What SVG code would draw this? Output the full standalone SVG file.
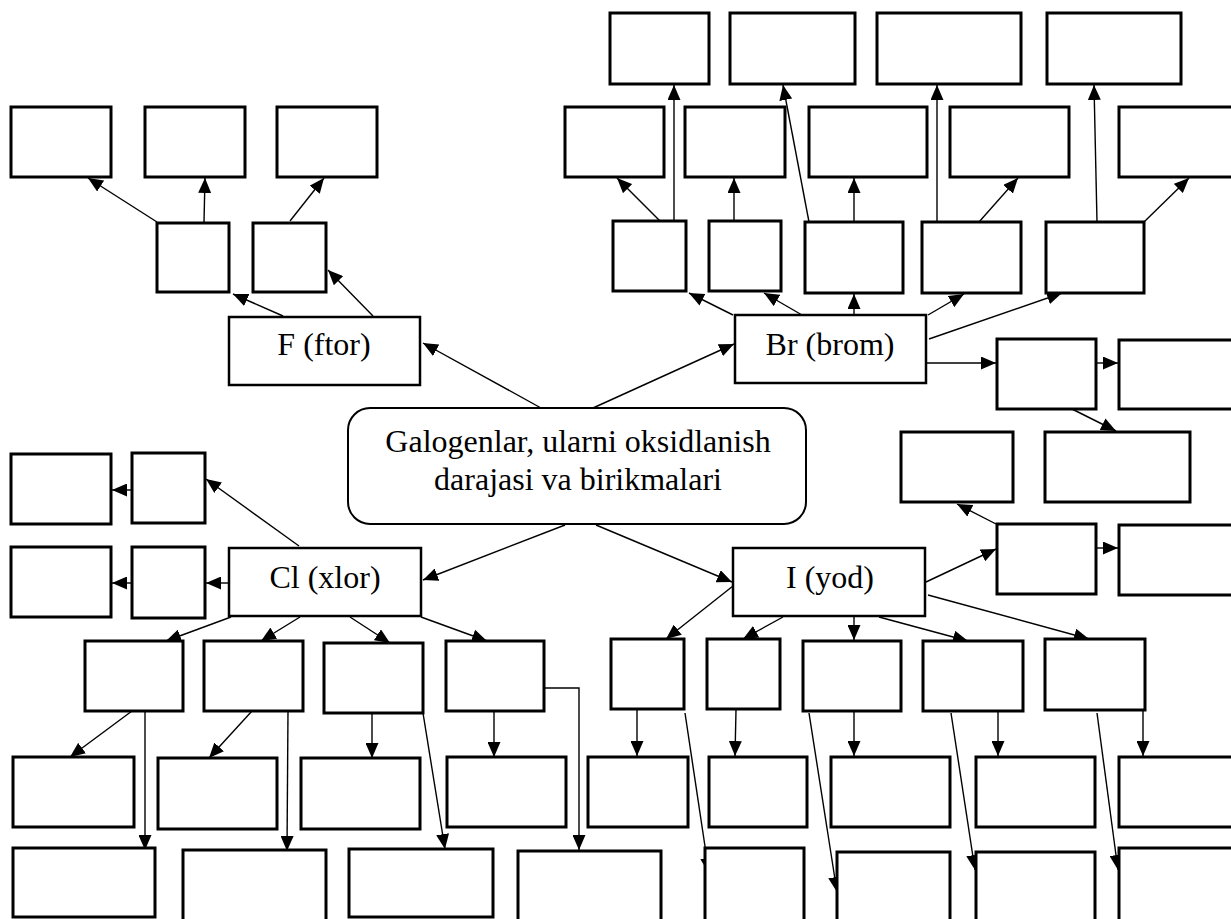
<svg xmlns="http://www.w3.org/2000/svg" width="1231" height="919" viewBox="0 0 1231 919">
<style>
.b{fill:#fff;stroke:#000;stroke-width:3}
.t{fill:#fff;stroke:#000;stroke-width:2.5}
.c{fill:#fff;stroke:#000;stroke-width:2}
.lbl{font-family:"Liberation Serif","Times New Roman",serif;font-size:32px;fill:#000;text-anchor:middle}
.k line,.k polyline{stroke:#000;stroke-width:1.4;fill:none;marker-end:url(#ah)}
</style>
<defs>
<marker id="ah" markerUnits="userSpaceOnUse" markerWidth="15" markerHeight="13" refX="15" refY="6.5" orient="auto">
<path d="M0,0 L15,6.5 L0,13 z" fill="#000"/>
</marker>
</defs>
<rect width="1231" height="919" fill="#fff"/>
<g id="connectors" class="k">
<line x1="157" y1="222" x2="88" y2="178"/>
<line x1="204" y1="222" x2="205" y2="178"/>
<line x1="290" y1="221" x2="324" y2="178"/>
<line x1="283" y1="316" x2="233" y2="294"/>
<line x1="373" y1="316" x2="328" y2="270"/>
<line x1="541" y1="408" x2="423" y2="343"/>
<line x1="593" y1="408" x2="734" y2="344"/>
<line x1="565" y1="525" x2="423" y2="580"/>
<line x1="596" y1="525" x2="732" y2="582"/>
<line x1="733" y1="315" x2="689" y2="293"/>
<line x1="802" y1="315" x2="764" y2="293"/>
<line x1="854" y1="315" x2="854" y2="294"/>
<line x1="928" y1="315" x2="964" y2="294"/>
<line x1="929" y1="339" x2="1062" y2="293"/>
<line x1="926" y1="363" x2="996" y2="363"/>
<line x1="1096" y1="363" x2="1118" y2="363"/>
<line x1="1072" y1="409" x2="1116" y2="431"/>
<line x1="661" y1="222" x2="617" y2="178"/>
<line x1="674" y1="221" x2="674" y2="85"/>
<line x1="734" y1="221" x2="734" y2="178"/>
<line x1="809" y1="222" x2="783" y2="85"/>
<line x1="854" y1="222" x2="854" y2="178"/>
<line x1="937" y1="222" x2="937" y2="85"/>
<line x1="979" y1="222" x2="1018" y2="178"/>
<line x1="1097" y1="222" x2="1094" y2="85"/>
<line x1="1144" y1="222" x2="1189" y2="178"/>
<line x1="926" y1="582" x2="996" y2="549"/>
<line x1="1096" y1="548" x2="1118" y2="548"/>
<line x1="996" y1="524" x2="957" y2="504"/>
<line x1="733" y1="586" x2="666" y2="639"/>
<line x1="783" y1="617" x2="743" y2="639"/>
<line x1="854" y1="616" x2="854" y2="640"/>
<line x1="879" y1="617" x2="968" y2="641"/>
<line x1="928" y1="595" x2="1089" y2="639"/>
<line x1="637" y1="710" x2="637" y2="756"/>
<line x1="736" y1="710" x2="735" y2="756"/>
<line x1="854" y1="712" x2="854" y2="756"/>
<line x1="998" y1="712" x2="998" y2="756"/>
<line x1="1143" y1="710" x2="1143" y2="756"/>
<line x1="685" y1="713" x2="709" y2="873"/>
<line x1="809" y1="713" x2="837" y2="892"/>
<line x1="951" y1="713" x2="975" y2="870"/>
<line x1="1097" y1="713" x2="1118" y2="870"/>
<line x1="299" y1="546" x2="206" y2="479"/>
<line x1="229" y1="583" x2="206" y2="583"/>
<line x1="134" y1="490" x2="112" y2="490"/>
<line x1="132" y1="583" x2="112" y2="583"/>
<line x1="231" y1="617" x2="166" y2="641"/>
<line x1="300" y1="617" x2="261" y2="641"/>
<line x1="350" y1="617" x2="390" y2="643"/>
<line x1="421" y1="617" x2="487" y2="641"/>
<line x1="132" y1="711" x2="70" y2="757"/>
<line x1="145" y1="711" x2="145" y2="850"/>
<line x1="252" y1="711" x2="209" y2="758"/>
<line x1="288" y1="711" x2="287" y2="851"/>
<line x1="372" y1="713" x2="372" y2="758"/>
<line x1="423" y1="713" x2="445" y2="849"/>
<line x1="494" y1="711" x2="494" y2="757"/>
<polyline points="544,688 579,688 579,850"/>
</g>
<g id="center"><rect class="c" x="348" y="408" width="458" height="116" rx="22"/>
<text class="lbl" x="578" y="452">Galogenlar, ularni oksidlanish</text>
<text class="lbl" x="578" y="490">darajasi va birikmalari</text></g>
<g id="F"><rect class="t" x="229" y="317" width="191" height="68"/><text class="lbl" x="324" y="355">F (ftor)</text></g>
<g id="f1"><rect class="b" x="11" y="107" width="100" height="70"/></g>
<g id="f2"><rect class="b" x="145" y="107" width="100" height="70"/></g>
<g id="f3"><rect class="b" x="277" y="107" width="100" height="70"/></g>
<g id="fa"><rect class="b" x="157" y="223" width="72" height="69"/></g>
<g id="fb"><rect class="b" x="253" y="223" width="73" height="69"/></g>
<g id="Br"><rect class="t" x="735" y="315" width="191" height="68"/><text class="lbl" x="830" y="355">Br (brom)</text></g>
<g id="t1"><rect class="b" x="610" y="13" width="99" height="71"/></g>
<g id="t2"><rect class="b" x="730" y="13" width="125" height="71"/></g>
<g id="t3"><rect class="b" x="877" y="13" width="144" height="71"/></g>
<g id="t4"><rect class="b" x="1047" y="13" width="134" height="71"/></g>
<g id="m1"><rect class="b" x="565" y="107" width="99" height="70"/></g>
<g id="m2"><rect class="b" x="685" y="107" width="100" height="70"/></g>
<g id="m3"><rect class="b" x="809" y="107" width="118" height="70"/></g>
<g id="m4"><rect class="b" x="950" y="107" width="119" height="70"/></g>
<g id="m5"><rect class="b" x="1119" y="107" width="116" height="70"/></g>
<g id="b1"><rect class="b" x="613" y="221" width="73" height="70"/></g>
<g id="b2"><rect class="b" x="709" y="221" width="72" height="70"/></g>
<g id="b3"><rect class="b" x="805" y="222" width="98" height="71"/></g>
<g id="b4"><rect class="b" x="922" y="222" width="99" height="71"/></g>
<g id="b5"><rect class="b" x="1046" y="222" width="98" height="71"/></g>
<g id="r1"><rect class="b" x="997" y="339" width="99" height="70"/></g>
<g id="r2"><rect class="b" x="1119" y="340" width="116" height="69"/></g>
<g id="r3"><rect class="b" x="1045" y="432" width="145" height="70"/></g>
<g id="r4"><rect class="b" x="901" y="432" width="112" height="70"/></g>
<g id="I"><rect class="t" x="733" y="548" width="192" height="68"/><text class="lbl" x="830" y="588">I (yod)</text></g>
<g id="y1"><rect class="b" x="997" y="524" width="99" height="70"/></g>
<g id="y2"><rect class="b" x="1119" y="525" width="116" height="70"/></g>
<g id="j1"><rect class="b" x="611" y="639" width="73" height="70"/></g>
<g id="j2"><rect class="b" x="707" y="639" width="73" height="70"/></g>
<g id="j3"><rect class="b" x="803" y="641" width="98" height="70"/></g>
<g id="j4"><rect class="b" x="923" y="641" width="100" height="70"/></g>
<g id="j5"><rect class="b" x="1045" y="639" width="100" height="71"/></g>
<g id="k1"><rect class="b" x="588" y="757" width="100" height="70"/></g>
<g id="k2"><rect class="b" x="709" y="757" width="98" height="70"/></g>
<g id="k3"><rect class="b" x="831" y="757" width="119" height="70"/></g>
<g id="k4"><rect class="b" x="976" y="757" width="119" height="70"/></g>
<g id="k5"><rect class="b" x="1119" y="757" width="116" height="70"/></g>
<g id="p2"><rect class="b" x="705" y="848" width="99" height="75"/></g>
<g id="p3"><rect class="b" x="837" y="852" width="113" height="71"/></g>
<g id="p4"><rect class="b" x="976" y="852" width="119" height="71"/></g>
<g id="p5"><rect class="b" x="1119" y="848" width="116" height="75"/></g>
<g id="Cl"><rect class="t" x="229" y="548" width="192" height="68"/><text class="lbl" x="325" y="588">Cl (xlor)</text></g>
<g id="l1"><rect class="b" x="11" y="454" width="100" height="70"/></g>
<g id="l2"><rect class="b" x="132" y="453" width="73" height="70"/></g>
<g id="l3"><rect class="b" x="11" y="547" width="100" height="70"/></g>
<g id="l4"><rect class="b" x="132" y="547" width="73" height="71"/></g>
<g id="c1"><rect class="b" x="85" y="641" width="98" height="70"/></g>
<g id="c2"><rect class="b" x="204" y="641" width="99" height="70"/></g>
<g id="c3"><rect class="b" x="324" y="643" width="99" height="70"/></g>
<g id="c4"><rect class="b" x="446" y="641" width="98" height="70"/></g>
<g id="d1"><rect class="b" x="13" y="757" width="121" height="70"/></g>
<g id="d2"><rect class="b" x="158" y="758" width="119" height="71"/></g>
<g id="d3"><rect class="b" x="301" y="758" width="119" height="71"/></g>
<g id="d4"><rect class="b" x="447" y="757" width="119" height="70"/></g>
<g id="e1"><rect class="b" x="13" y="848" width="142" height="69"/></g>
<g id="e2"><rect class="b" x="183" y="850" width="143" height="73"/></g>
<g id="e3"><rect class="b" x="349" y="849" width="144" height="68"/></g>
<g id="e4"><rect class="b" x="518" y="851" width="143" height="72"/></g>
</svg>
